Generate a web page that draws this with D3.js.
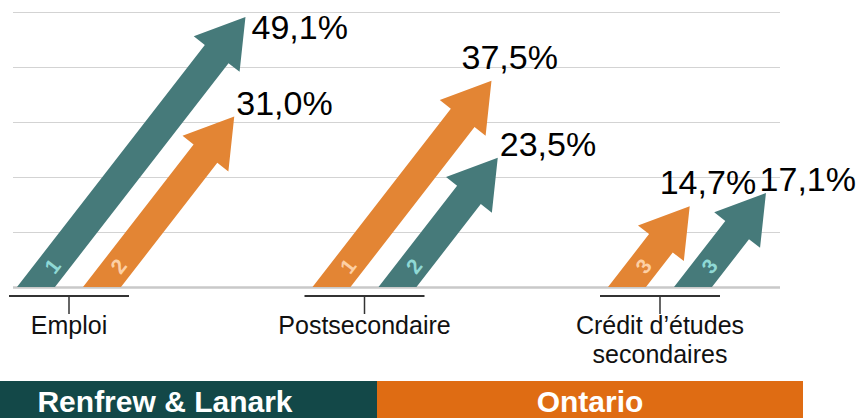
<!DOCTYPE html>
<html>
<head>
<meta charset="utf-8">
<script src="https://cdn.jsdelivr.net/npm/d3@7"></script>
<style>
  body { margin: 0; background: #fff; }
  svg { display: block; font-family: 'Liberation Sans', Arial, sans-serif; }
</style>
</head>
<body>
<div id="graf"></div>
<script>
// I. Données
categories = ['Emploi', 'Postsecondaire', 'Crédit d’études secondaires']
series = ['Renfrew & Lanark', 'Ontario']
renfrewLanark = [49.1, 23.5, 17.1]
ontario = [31.0, 37.5, 14.7]
// ordre gauche -> droite des flèches dans chaque catégorie
ordre = [
  ['Renfrew & Lanark', 'Ontario'],
  ['Ontario', 'Renfrew & Lanark'],
  ['Ontario', 'Renfrew & Lanark']
]
yTicks = [0, 10, 20, 30, 40, 50]

// II. Configuration
ancho_total = 857
alto_total = 418

gridLeft = 13
gridRight = 780
yTop = 12
yBase = 287

colores = { 'Renfrew & Lanark': '#467a7a', 'Ontario': '#e38534' }
coloresNum = { 'Renfrew & Lanark': '#8fd9d5', 'Ontario': '#fdd0a5' }
coloresLeyenda = { 'Renfrew & Lanark': '#134848', 'Ontario': '#df6c13' }

angulo = 52.2 * Math.PI / 180
ux = Math.cos(angulo); uy = -Math.sin(angulo)
nx = Math.sin(angulo); ny = Math.cos(angulo)
headLen = 47
headHalf = 29
shaftHalf = 15

locale = d3.formatLocale({ decimal: ',', thousands: ' ', grouping: [3], currency: ['', ' $'] })
fmt = v => locale.format('.1f')(v) + '%'

valores = { 'Renfrew & Lanark': renfrewLanark, 'Ontario': ontario }

// rang de chaque catégorie dans sa série (1 = plus élevé)
rangos = {}
series.forEach(s => {
  const orden = d3.range(categories.length).sort((a, b) => valores[s][b] - valores[s][a])
  rangos[s] = categories.map((c, i) => orden.indexOf(i) + 1)
})

svg = d3.select('#graf').append('svg')
  .attr('width', ancho_total)
  .attr('height', alto_total)

y = d3.scaleLinear()
  .domain([0, 50])
  .range([yBase, yTop])

x = d3.scalePoint()
  .domain(categories)
  .range([69, 660])

xIn = d3.scalePoint()
  .domain([0, 1])
  .range([-33, 33])

// III. Grille
grid = svg.append('g')
  .attr('transform', `translate(${gridLeft}, 0)`)
  .call(d3.axisLeft(y).tickValues(yTicks).tickSize(-(gridRight - gridLeft)).tickFormat(''))
grid.select('.domain').remove()
grid.selectAll('.tick line')
  .attr('stroke', d => d === 0 ? '#c9c9c9' : '#d3d3d3')
  .attr('stroke-width', d => d === 0 ? 2.5 : 1)

// IV. Flèches
datos = []
categories.forEach((c, i) => {
  ordre[i].forEach((s, j) => {
    datos.push({ cat: c, serie: s, pos: j, valor: valores[s][i], rango: rangos[s][i] })
  })
})

function flecha(cx, tipY) {
  const h = yBase - tipY
  const tx = cx + h / Math.tan(angulo)
  const hx = tx - headLen * ux, hy = tipY - headLen * uy
  const bw = shaftHalf / Math.sin(angulo)
  return [
    [cx - bw, yBase],
    [hx - shaftHalf * nx, hy - shaftHalf * ny],
    [hx - headHalf * nx, hy - headHalf * ny],
    [tx, tipY],
    [hx + headHalf * nx, hy + headHalf * ny],
    [hx + shaftHalf * nx, hy + shaftHalf * ny],
    [cx + bw, yBase]
  ]
}

datos.forEach(d => {
  d.cx = x(d.cat) + xIn(d.pos)
  d.tipY = y(d.valor)
  d.tipX = d.cx + (yBase - d.tipY) / Math.tan(angulo)
})

svg.append('g').selectAll('path')
  .data(datos)
  .enter()
  .append('path')
    .attr('d', d => d3.line()(flecha(d.cx, d.tipY)) + 'Z')
    .attr('fill', d => colores[d.serie])

// numéro de rang dans la flèche
svg.append('g').selectAll('text')
  .data(datos)
  .enter()
  .append('text')
    .attr('transform', d => `translate(${d.cx + 21 / Math.tan(angulo)}, ${yBase - 21}) rotate(${-angulo * 180 / Math.PI})`)
    .attr('text-anchor', 'middle')
    .attr('dy', '0.36em')
    .style('font-size', '21px')
    .style('font-weight', 'bold')
    .style('fill', d => coloresNum[d.serie])
    .text(d => d.rango)

// étiquettes de valeur
etiquetas = svg.append('g').selectAll('text')
  .data(datos)
  .enter()
  .append('text')
    .style('font-size', '34px')
    .style('fill', '#000')
    .text(d => fmt(d.valor))

etiquetas.each(function(d) {
  const w = this.getComputedTextLength()
  let lx, ly
  if (d.pos === 0) {
    lx = d.tipX - 30; ly = d.tipY - 12
    if (ly - 25 < 0) { lx = d.tipX + 6; ly = d.tipY + 22 }
  } else {
    lx = Math.min(d.tipX + 2, ancho_total - w - 1); ly = d.tipY - 2
  }
  d3.select(this).attr('x', lx).attr('y', ly)
})

// V. Axe des catégories (accolades)
ejeY = 296
cats = svg.append('g').selectAll('g')
  .data(categories)
  .enter()
  .append('g')
    .attr('transform', d => `translate(${x(d)}, ${ejeY})`)

cats.append('line')
  .attr('x1', -60).attr('x2', 60)
  .attr('stroke', '#333').attr('stroke-width', 2)
cats.append('line')
  .attr('y1', 0).attr('y2', 18)
  .attr('stroke', '#333').attr('stroke-width', 1.5)

cats.append('text')
  .attr('text-anchor', 'middle')
  .attr('y', 38)
  .style('font-size', '25px')
  .style('fill', '#111')
  .each(function(d) {
    const t = d3.select(this)
    const palabras = d.split(' ')
    let linea = []
    let tspan = t.append('tspan').attr('x', 0).attr('dy', 0)
    palabras.forEach(p => {
      linea.push(p)
      tspan.text(linea.join(' '))
      if (tspan.node().getComputedTextLength() > 180 && linea.length > 1) {
        linea.pop()
        tspan.text(linea.join(' '))
        linea = [p]
        tspan = t.append('tspan').attr('x', 0).attr('dy', 29).text(p)
      }
    })
  })

// VI. Légende
leyenda = [
  { serie: 'Renfrew & Lanark', x0: 0, x1: 377, tx: 165 },
  { serie: 'Ontario', x0: 377, x1: 803, tx: 590 }
]
ley = svg.append('g').selectAll('g')
  .data(leyenda)
  .enter()
  .append('g')
ley.append('rect')
  .attr('x', d => d.x0).attr('y', 381)
  .attr('width', d => d.x1 - d.x0).attr('height', alto_total - 381)
  .attr('fill', d => coloresLeyenda[d.serie])
ley.append('text')
  .attr('x', d => d.tx).attr('y', 412)
  .attr('text-anchor', 'middle')
  .style('font-size', '30px')
  .style('font-weight', 'bold')
  .style('fill', '#fff')
  .text(d => d.serie)
</script>
</body>
</html>
